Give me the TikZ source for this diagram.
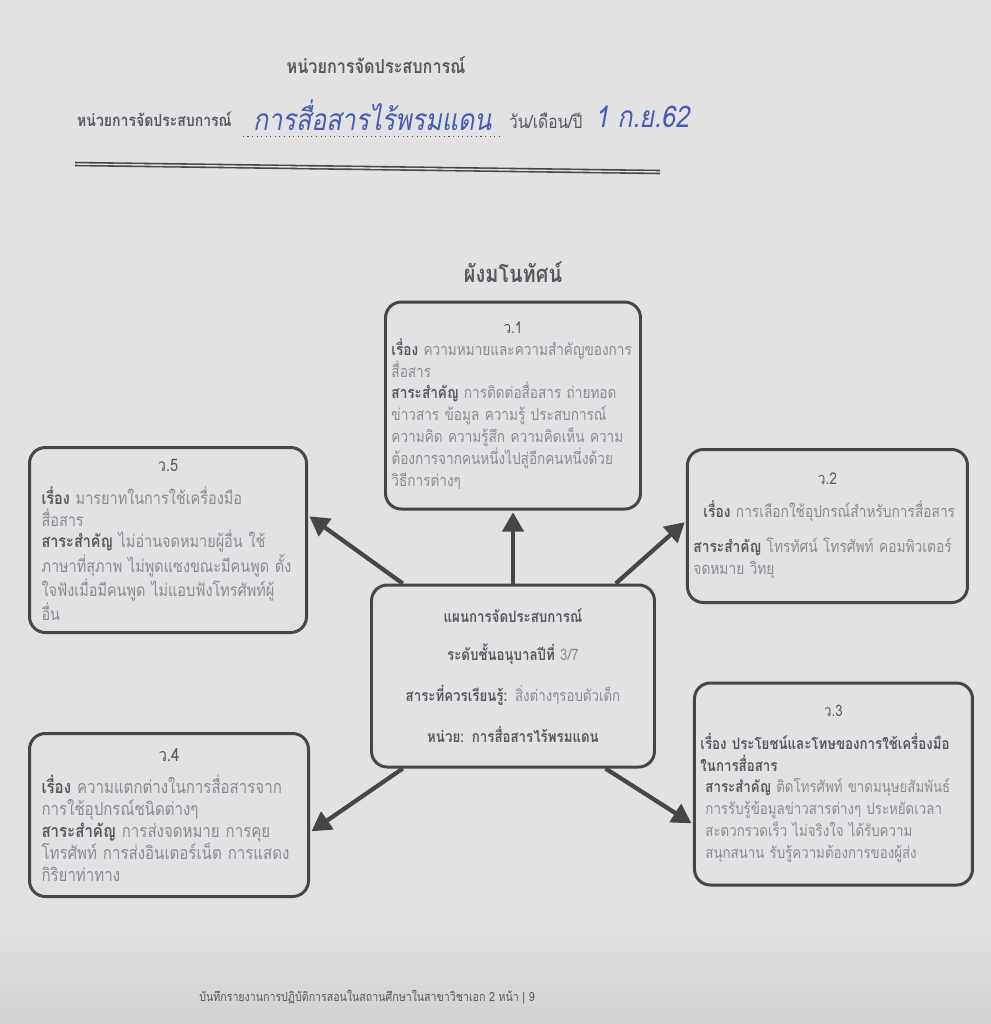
\documentclass[tikz,border=0pt]{standalone}
\usepackage{fontspec}
\setmainfont[Script=Thai, FakeStretch=0.84]{Loma}
\XeTeXlinebreaklocale "th"
\usepackage{tikz}
\usetikzlibrary{arrows.meta, positioning}
\definecolor{paperGray}{RGB}{226,226,229}
\definecolor{shadeGray}{RGB}{210,210,212}
\definecolor{inkGray}{RGB}{70,70,72}
\definecolor{printDark}{RGB}{88,88,92}
\definecolor{printLight}{RGB}{138,138,144}
\definecolor{penBlue}{RGB}{70,92,172}
\newcommand{\kw}[1]{{\bfseries\color{printDark}#1}}
\newcommand{\boxhead}[1]{\makebox[\linewidth]{\color{printDark}#1}}

\begin{document}
\begin{tikzpicture}[
  topic/.style={rectangle, rounded corners=9pt, draw=inkGray, line width=1.7pt,
                fill=paperGray, align=left, text=printLight,
                font=\fontsize{9}{12.4}\selectfont, inner xsep=0.12cm},
  hub/.style={topic, align=center, text width=5.2cm,
              minimum width=5.66cm, minimum height=3.64cm},
  arrow/.style={-{Triangle[length=11pt, width=12pt]}, line width=2.4pt,
                color=inkGray, shorten >=1pt},
  pen/.style={text=penBlue, font=\fontsize{17}{19}\selectfont\itshape},
  node distance=1.2cm
]

% Paper
\fill[paperGray] (0,0) rectangle (19.82,-20.48);
\shade[top color=paperGray, bottom color=shadeGray] (0,-18.2) rectangle (19.82,-20.48);
\useasboundingbox (0,0) rectangle (19.82,-20.48);

% Header of the sheet
\node[text=printDark, font=\fontsize{11}{13}\selectfont\bfseries] (sheetTitle)
  at (7.52,-1.30) {หน่วยการจัดประสบการณ์};
\node[anchor=west, text=printDark, font=\fontsize{9.5}{11}\selectfont\bfseries] (unitLbl)
  at (1.42,-2.38) {หน่วยการจัดประสบการณ์};
\node[pen, right=0.1cm of unitLbl, yshift=0.08cm, inner xsep=0.2cm] (unitHand) {การสื่อสารไร้พรมแดน};
\node[text=printDark, font=\fontsize{10.5}{12}\selectfont, right=0.02cm of unitHand,
      yshift=-0.12cm] (dateLbl) {วัน/เดือน/ปี};
\node[pen, right=0.0cm of dateLbl, yshift=0.08cm] (dateHand) {1 ก.ย.62};
\draw[printDark, dotted, line width=0.6pt] (unitHand.south west) -- (unitHand.south east);
\coordinate (ruleL) at (1.5,-3.28);
\coordinate (ruleR) at (13.2,-3.44);
\draw[inkGray, double=paperGray, double distance=0.8pt, line width=0.9pt] (ruleL) -- (ruleR);

% Title
\node[text=printDark, font=\fontsize{13.5}{15}\selectfont\bfseries] (mapTitle)
  at (10.26,-5.44) {ผังมโนทัศน์};

% Centre box
\node[hub] (hub) at (10.26,-13.52) {%
  \kw{แผนการจัดประสบการณ์}\\[9pt]
  \kw{ระดับชั้นอนุบาลปีที่} 3/7\\[11pt]
  \kw{สาระที่ควรเรียนรู้:} สิ่งต่างๆรอบตัวเด็ก\\[11pt]
  \kw{หน่วย: การสื่อสารไร้พรมแดน}};

% Surrounding boxes
\node[topic, text width=4.86cm, minimum height=4.14cm, above=1.46cm of hub,
      font=\fontsize{9.2}{12.4}\selectfont] (v1) {%
  \boxhead{ว.1}\\
  \kw{เรื่อง} ความหมายและความสำคัญของการ\\
  สื่อสาร\\
  \kw{สาระสำคัญ} การติดต่อสื่อสาร ถ่ายทอด\\
  ข่าวสาร ข้อมูล ความรู้ ประสบการณ์\\
  ความคิด ความรู้สึก ความคิดเห็น ความ\\
  ต้องการจากคนหนึ่งไปสู่อีกคนหนึ่งด้วย\\
  วิธีการต่างๆ};
\node[topic, text width=5.06cm, minimum height=3.7cm, inner xsep=0.24cm,
      font=\fontsize{9.8}{12.4}\selectfont,
      left=1.24cm of hub, yshift=2.72cm] (v5) {%
  \boxhead{ว.5}\\[6pt]
  \kw{เรื่อง} มารยาทในการใช้เครื่องมือ\\
  สื่อสาร\\
  \kw{สาระสำคัญ} ไม่อ่านจดหมายผู้อื่น ใช้\\
  ภาษาที่สุภาพ ไม่พูดแซงขณะมีคนพูด ตั้ง\\
  ใจฟังเมื่อมีคนพูด ไม่แอบฟังโทรศัพท์ผู้\\
  อื่น};
\node[topic, text width=5.36cm, minimum height=3.06cm,
      font=\fontsize{9.3}{12.4}\selectfont,
      right=0.6cm of hub, yshift=3.0cm] (v2) {%
  \boxhead{ว.2}\\[6pt]
  \hspace*{0.2cm}\kw{เรื่อง} การเลือกใช้อุปกรณ์สำหรับการสื่อสาร\\[8pt]
  \kw{สาระสำคัญ} โทรทัศน์ โทรศัพท์ คอมพิวเตอร์\\
  จดหมาย วิทยุ};
\node[topic, text width=5.1cm, minimum height=3.26cm, inner xsep=0.24cm,
      font=\fontsize{10.2}{12.4}\selectfont,
      left=1.2cm of hub, yshift=-2.78cm] (v4) {%
  \boxhead{ว.4}\\[6pt]
  \kw{เรื่อง} ความแตกต่างในการสื่อสารจาก\\
  การใช้อุปกรณ์ชนิดต่างๆ\\
  \kw{สาระสำคัญ} การส่งจดหมาย การคุย\\
  โทรศัพท์ การส่งอินเตอร์เน็ต การแสดง\\
  กิริยาท่าทาง};
\node[topic, text width=5.32cm, minimum height=4.04cm,
      right=0.74cm of hub, yshift=-2.16cm] (v3) {%
  \boxhead{ว.3}\\[6pt]
  \kw{เรื่อง ประโยชน์และโทษของการใช้เครื่องมือ}\\
  \kw{ในการสื่อสาร}\\
  \hspace*{0.1cm}\kw{สาระสำคัญ} ติดโทรศัพท์ ขาดมนุษยสัมพันธ์\\
  \hspace*{0.1cm}การรับรู้ข้อมูลข่าวสารต่างๆ ประหยัดเวลา\\
  \hspace*{0.1cm}สะดวกรวดเร็ว ไม่จริงใจ ได้รับความ\\
  \hspace*{0.1cm}สนุกสนาน รับรู้ความต้องการของผู้ส่ง};

% Arrows from the centre
\draw[arrow] (hub.north) -- (v1.south);
\draw[arrow] (hub.140) -- (v5.10);
\draw[arrow] (hub.42) -- (v2.178);
\draw[arrow] (hub.220) -- (v4.-7);
\draw[arrow] (hub.-45) -- (v3.196);

% Footer
\node[text=printDark, font=\fontsize{7.2}{8.5}\selectfont] (footer) at (7.34,-19.94)
  {บันทึกรายงานการปฏิบัติการสอนในสถานศึกษาในสาขาวิชาเอก 2 หน้า | 9};

\end{tikzpicture}
\end{document}
